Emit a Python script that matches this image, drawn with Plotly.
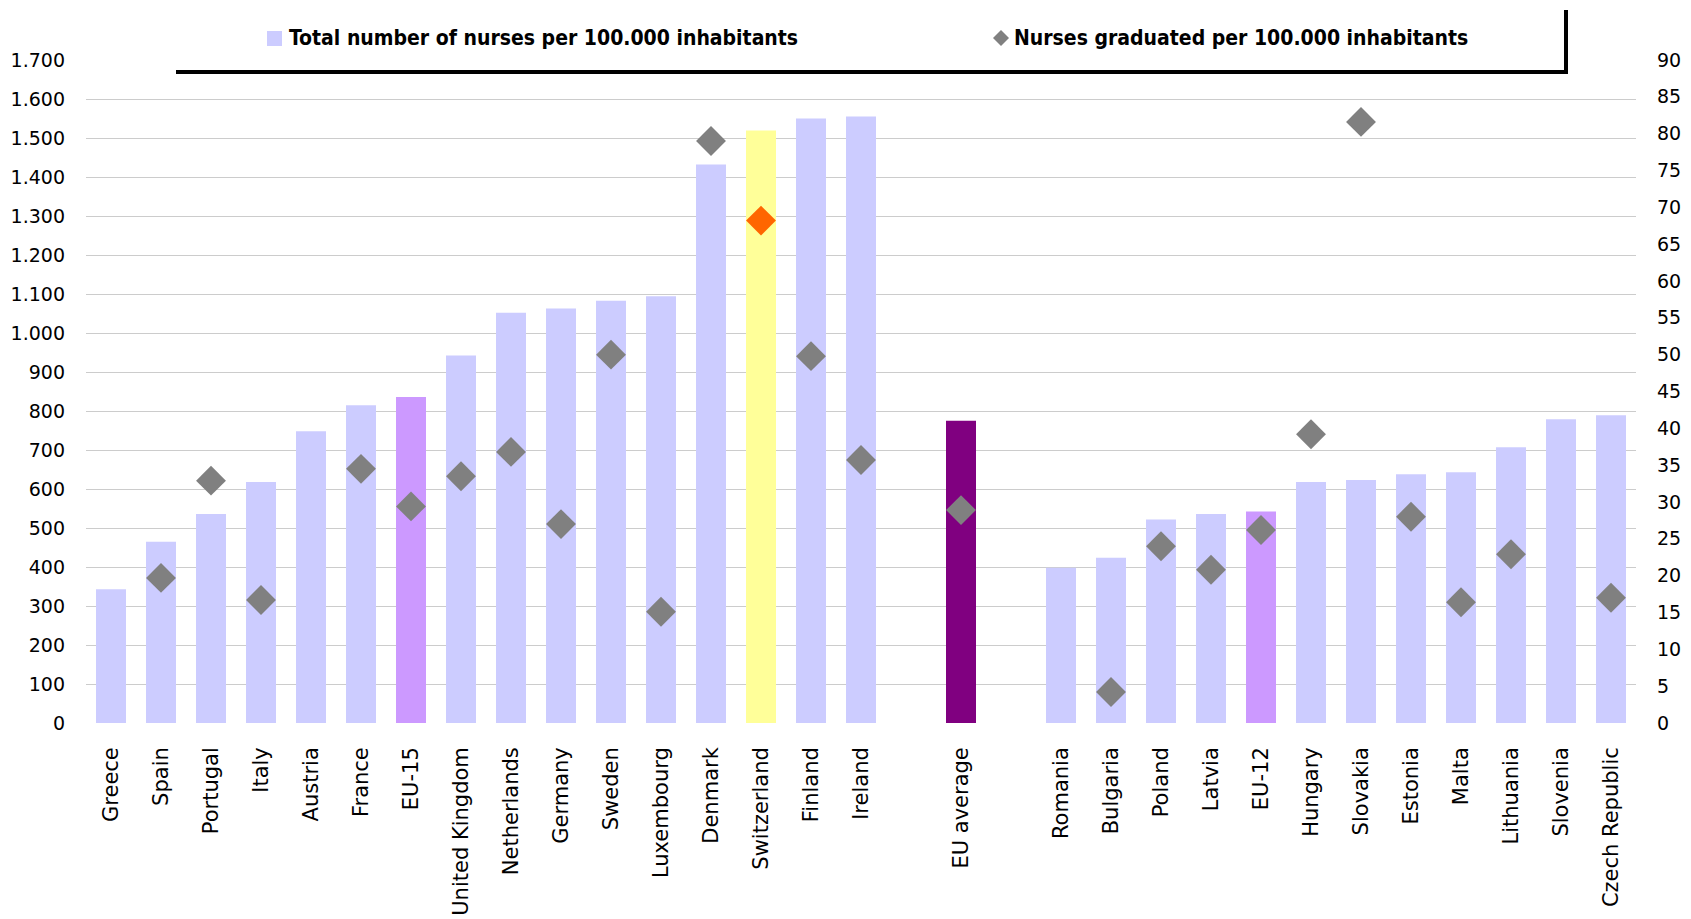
import plotly.graph_objects as go

# Category slots (two empty spacer slots separate the three groups)
categories = [
    "Greece", "Spain", "Portugal", "Italy", "Austria", "France", "EU-15",
    "United Kingdom", "Netherlands", "Germany", "Sweden", "Luxembourg",
    "Denmark", "Switzerland", "Finland", "Ireland",
    " ", "EU average", "  ",
    "Romania", "Bulgaria", "Poland", "Latvia", "EU-12", "Hungary", "Slovakia",
    "Estonia", "Malta", "Lithuania", "Slovenia", "Czech Republic",
]

# Total number of nurses per 100.000 inhabitants (left axis)
nurses_total = [
    343, 465, 536, 618, 748, 815, 836,
    942, 1052, 1063, 1083, 1094,
    1432, 1519, 1550, 1555,
    None, 775, None,
    398, 424, 522, 536, 542, 618, 623,
    638, 643, 707, 779, 789,
]

# Nurses graduated per 100.000 inhabitants (right axis)
nurses_graduated = [
    None, 19.7, 32.9, 16.7, None, 34.5, 29.4,
    33.5, 36.8, 27.0, 50.0, 15.1,
    79.0, 68.2, 49.8, 35.7,
    None, 28.9, None,
    None, 4.2, 24.0, 20.8, 26.2, 39.2, 81.6,
    28.0, 16.4, 22.9, None, 17.0,
]

left_ticks = list(range(0, 1701, 100))
right_ticks = list(range(0, 91, 5))

# Colours
BAR_DEFAULT = "#CCCCFF"
BAR_GROUP = "#CC99FF"
BAR_SWISS = "#FFFF99"
BAR_EU = "#800080"
DIAMOND = "#808080"
DIAMOND_SWISS = "#FF6600"

bar_colors = []
for c in categories:
    if c in ("EU-15", "EU-12"):
        bar_colors.append(BAR_GROUP)
    elif c == "Switzerland":
        bar_colors.append(BAR_SWISS)
    elif c == "EU average":
        bar_colors.append(BAR_EU)
    else:
        bar_colors.append(BAR_DEFAULT)

diamond_colors = [DIAMOND_SWISS if c == "Switzerland" else DIAMOND for c in categories]

fig = go.Figure()
fig.add_trace(go.Bar(
    x=categories, y=nurses_total, width=0.6,
    marker=dict(color=bar_colors, line=dict(width=0)),
    name="Total number of nurses per 100.000 inhabitants",
    showlegend=False,
))
fig.add_trace(go.Scatter(
    x=categories, y=nurses_graduated, yaxis="y2", mode="markers",
    marker=dict(symbol="diamond", size=23, color=diamond_colors, line=dict(width=0)),
    name="Nurses graduated per 100.000 inhabitants",
    showlegend=False,
))

W, H = 1691, 919
ML, MR, MT, MB = 86, 55, 60, 196
PW, PH = W - ML - MR, H - MT - MB


def px(x):
    return (x - ML) / PW


def py(y):
    return (H - MB - y) / PH


tick_font = dict(family="DejaVu Sans", size=19, color="#000000")
cat_font = dict(family="DejaVu Sans", size=21, color="#000000")
legend_font = dict(family="Liberation Sans Narrow, DejaVu Sans Condensed, sans-serif",
                   size=21, color="#000000")

shapes = [
    # frame under the legend
    dict(type="line", xref="paper", yref="paper",
         x0=px(176), x1=px(1568), y0=py(72), y1=py(72),
         line=dict(color="#000000", width=4)),
    dict(type="line", xref="paper", yref="paper",
         x0=px(1566), x1=px(1566), y0=py(10), y1=py(72),
         line=dict(color="#000000", width=4)),
    # legend swatch: square
    dict(type="rect", xref="paper", yref="paper",
         x0=px(267), x1=px(282), y0=py(46), y1=py(31),
         fillcolor=BAR_DEFAULT, line=dict(width=0)),
]
# legend swatch: diamond
cx, cy, r = 1001, 38, 8
shapes.append(dict(
    type="path", xref="paper", yref="paper",
    path=(f"M {px(cx - r)},{py(cy)} L {px(cx)},{py(cy - r)} "
          f"L {px(cx + r)},{py(cy)} L {px(cx)},{py(cy + r)} Z"),
    fillcolor=DIAMOND, line=dict(width=0)))

annotations = [
    dict(xref="paper", yref="paper", x=px(287), y=py(38), xanchor="left", yanchor="middle",
         text="<b>Total number of nurses per 100.000 inhabitants</b>", showarrow=False,
         font=legend_font),
    dict(xref="paper", yref="paper", x=px(1012), y=py(38), xanchor="left", yanchor="middle",
         text="<b>Nurses graduated per 100.000 inhabitants</b>", showarrow=False,
         font=legend_font),
]

fig.update_layout(
    width=W, height=H,
    margin=dict(l=ML, r=MR, t=MT, b=MB, autoexpand=False),
    paper_bgcolor="#FFFFFF", plot_bgcolor="#FFFFFF",
    separators=",.",
    bargap=0.4,
    shapes=shapes,
    annotations=annotations,
    xaxis=dict(
        type="category", categoryorder="array", categoryarray=categories,
        tickangle=-90, tickfont=cat_font, showgrid=False, showline=False,
        ticks="", ticklabelstandoff=19, range=[-0.5, len(categories) - 0.5],
        fixedrange=True,
    ),
    yaxis=dict(
        range=[0, 1700], tickvals=left_ticks, tickformat=",d",
        tickfont=tick_font, showgrid=True, gridcolor="#CCCCCC", gridwidth=1,
        zeroline=False, showline=False, ticks="", ticklabelstandoff=20,
    ),
    yaxis2=dict(
        range=[0, 90], tickvals=right_ticks, overlaying="y", side="right",
        tickfont=tick_font, showgrid=False, zeroline=False, showline=False,
        ticks="", ticklabelstandoff=20,
    ),
)

fig.write_html("out.html")
